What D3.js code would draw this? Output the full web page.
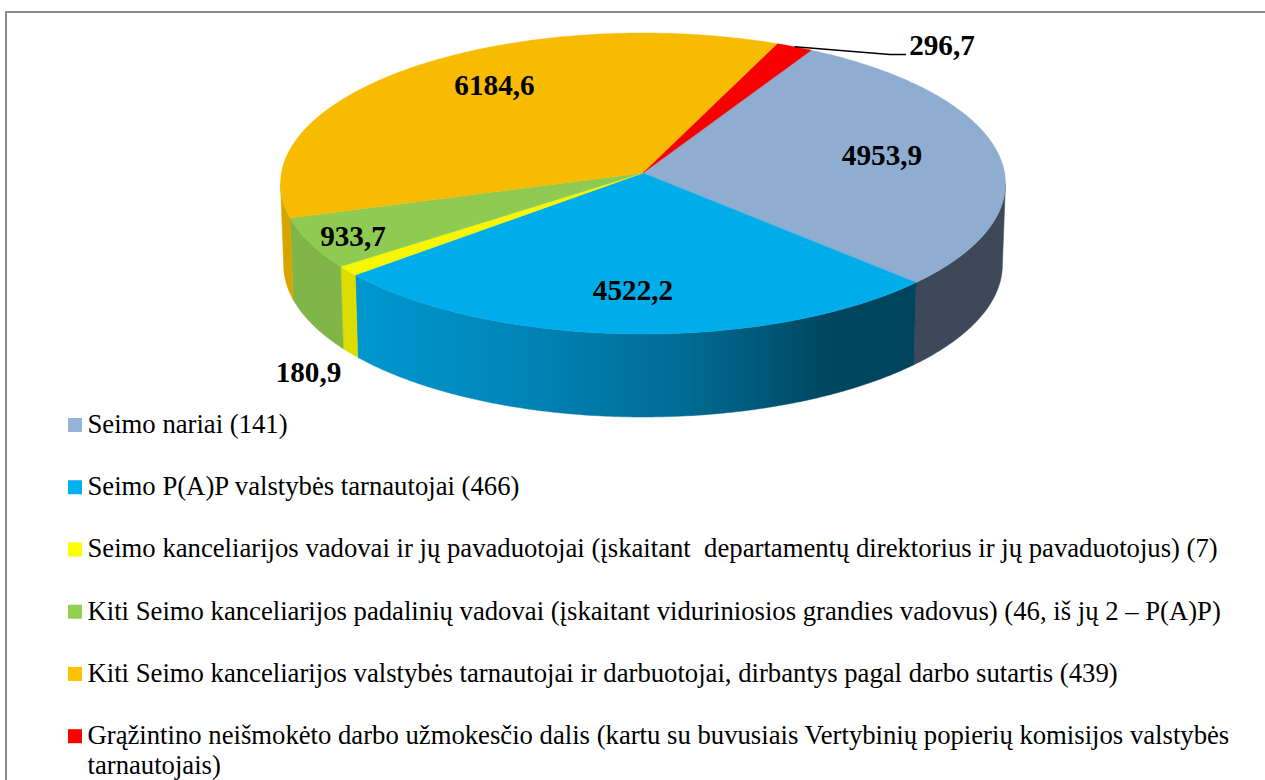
<!DOCTYPE html>
<html>
<head>
<meta charset="utf-8">
<script src="https://cdn.jsdelivr.net/npm/d3@7"></script>
<style>
	html, body { margin: 0; padding: 0; background: #fff; }
	svg { display: block; }
	text { font-family: "Liberation Serif", serif; fill: #000; white-space: pre; }
	.value_label { font-size: 29.2px; font-weight: bold; }
	.legend_text { font-size: 26.7px; }
</style>
</head>
<body>
<div id="chart"></div>
<script>
const categories = [
	"Seimo nariai (141)",
	"Seimo P(A)P valstybės tarnautojai (466)",
	"Seimo kanceliarijos vadovai ir jų pavaduotojai (įskaitant  departamentų direktorius ir jų pavaduotojus) (7)",
	"Kiti Seimo kanceliarijos padalinių vadovai (įskaitant viduriniosios grandies vadovus) (46, iš jų 2 – P(A)P)",
	"Kiti Seimo kanceliarijos valstybės tarnautojai ir darbuotojai, dirbantys pagal darbo sutartis (439)",
	"Grąžintino neišmokėto darbo užmokesčio dalis (kartu su buvusiais Vertybinių popierių komisijos valstybės"
];
const legend_second_line = "tarnautojais)";
const values = [4953.9, 4522.2, 180.9, 933.7, 6184.6, 296.7];
const value_labels = ["4953,9", "4522,2", "180,9", "933,7", "6184,6", "296,7"];
const top_colors = ["#8fadd1", "#00adea", "#f7f700", "#8fcb52", "#f7bb00", "#f90000"];
const side_colors = ["#3d4859", "url(#blue_side)", "#dddd00", "#80b548", "#d8a500", "#d00000"];
const legend_colors = ["#95b3d7", "#00b0f0", "#ffff00", "#92d050", "#ffc000", "#ff0000"];

const width = 1265, height = 780;
const svg = d3.select("#chart").append("svg").attr("width", width).attr("height", height);

// outer frame, its right and bottom sides fall outside the picture
svg.append("rect")
	.attr("x", 6).attr("y", 12).attr("width", 1290).attr("height", 800)
	.attr("fill", "#fff").attr("stroke", "#898989").attr("stroke-width", 2);

// the pie is tilted with a little perspective, so the hub is not the ellipse centre
const cx = 643, persp = 0.0698;
const top_face = {cy: 173, rx: 361.6, ry: 149.8};
const bottom_face = {cy: 254, rx: 358.5, ry: 151.6};

function project(angle, face, r = 1) {
	const u = r * Math.sin(angle), v = -r * Math.cos(angle);
	const w = 1 - persp * v;
	return [cx + face.rx * u / w, face.cy + face.ry * v / w];
}

function arc_points(a0, a1, face) {
	const n = Math.max(2, Math.ceil(Math.abs(a1 - a0) / 0.01));
	return d3.range(n + 1).map(i => project(a0 + (a1 - a0) * i / n, face));
}

const line = d3.line();
const start = 29.6 * Math.PI / 180;
const slices = d3.pie().sort(null).startAngle(start).endAngle(start + 2 * Math.PI)(values);

const defs = svg.append("defs");
const blue_side = defs.append("linearGradient").attr("id", "blue_side")
	.attr("gradientUnits", "userSpaceOnUse")
	.attr("x1", 350).attr("x2", 916).attr("y1", 0).attr("y2", 0);
[[0, "#0098d0"], [0.3, "#0085b8"], [0.6, "#006a92"], [0.85, "#00465f"], [1, "#00435c"]].forEach(s => {
	blue_side.append("stop").attr("offset", s[0]).attr("stop-color", s[1]);
});

// walls: only the front part shows, between the two widest points of the ellipse
const front0 = 94 * Math.PI / 180, front1 = 266 * Math.PI / 180;
const walls = svg.append("g");
slices.forEach((d, i) => {
	[0, 2 * Math.PI].forEach(shift => {
		const a0 = Math.max(d.startAngle + shift, front0), a1 = Math.min(d.endAngle + shift, front1);
		if (a1 <= a0) return;
		const pts = arc_points(a0, a1, top_face).concat(arc_points(a1, a0, bottom_face));
		walls.append("path").attr("d", line(pts) + "Z")
			.attr("fill", side_colors[i]).attr("stroke", side_colors[i]).attr("stroke-width", 0.5);
	});
});

// top face
const tops = svg.append("g");
slices.forEach((d, i) => {
	const pts = [project(0, top_face, 0)].concat(arc_points(d.startAngle, d.endAngle, top_face));
	tops.append("path").attr("d", line(pts) + "Z")
		.attr("fill", top_colors[i]).attr("stroke", top_colors[i]).attr("stroke-width", 0.4);
});

// leader line of the small red slice
svg.append("path")
	.attr("d", line([project((slices[5].startAngle + slices[5].endAngle) / 2, top_face), [890, 54.5], [906, 54.5]]))
	.attr("fill", "none").attr("stroke", "#000").attr("stroke-width", 1.4);

// value labels
const label_x = [882, 633, 308.5, 353, 494.5, 942];
const label_y = [165, 299.5, 381.5, 245.5, 95, 55];
svg.selectAll(".value_label").data(value_labels).enter().append("text")
	.attr("class", "value_label")
	.attr("text-anchor", "middle")
	.attr("x", (d, i) => label_x[i])
	.attr("y", (d, i) => label_y[i])
	.text(d => d);

// legend, squeezed a little so the two-line last entry fits above the picture's edge
const legend_y = d3.scalePoint().domain(d3.range(categories.length)).range([433, 744.2]);
const legend = svg.selectAll(".legend").data(categories).enter().append("g").attr("class", "legend");
legend.append("rect")
	.attr("x", 68).attr("width", 14).attr("height", 14)
	.attr("y", (d, i) => legend_y(i) - 15)
	.attr("fill", (d, i) => legend_colors[i]);
legend.append("text")
	.attr("class", "legend_text")
	.attr("x", 87.5)
	.attr("y", (d, i) => legend_y(i))
	.text(d => d);
svg.append("text").attr("class", "legend_text").attr("x", 87.5).attr("y", 774).text(legend_second_line);
</script>
</body>
</html>
